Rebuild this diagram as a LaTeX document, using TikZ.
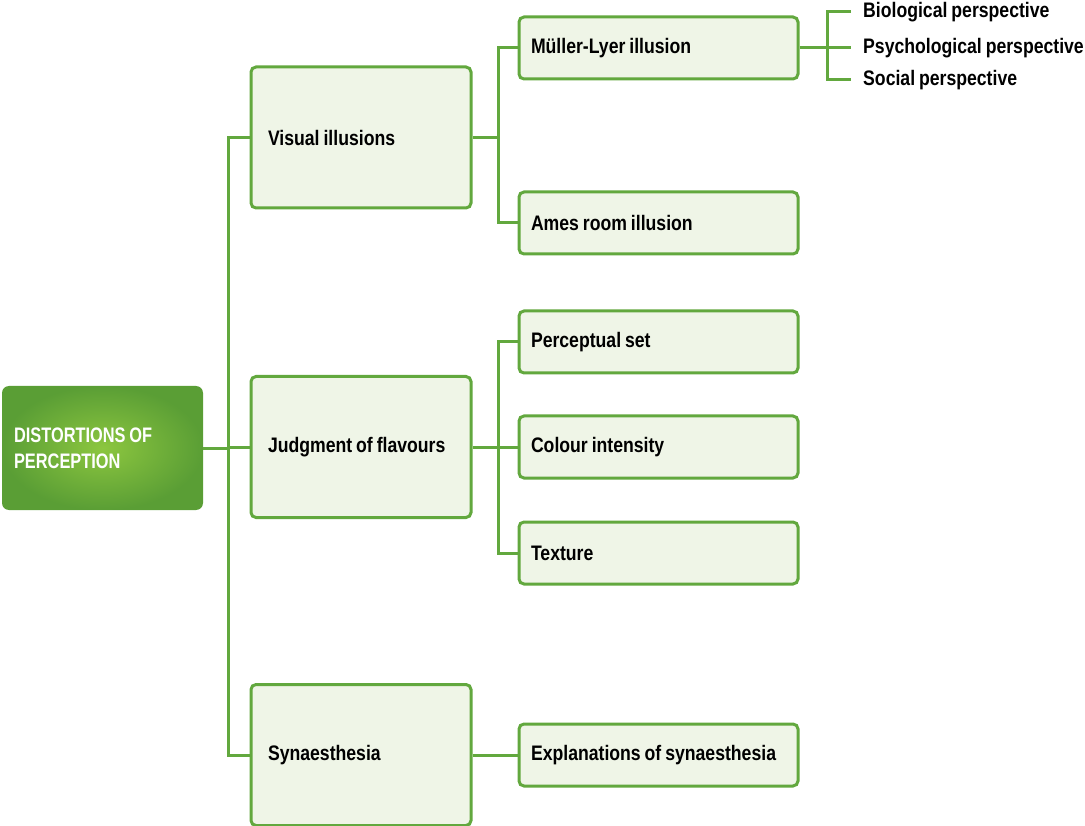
\documentclass[tikz,border=0pt]{standalone}
\usepackage{fontspec}
\setmainfont{Liberation Sans}[FakeStretch=0.84, WordSpace=0.8]
\newfontfamily\rootfont{Liberation Sans}[FakeStretch=0.78, WordSpace=0.8]
\usepackage{xcolor}
\usetikzlibrary{positioning, shadings}

\definecolor{linegreen}{HTML}{62A83E}
\definecolor{boxfill}{HTML}{EFF5E7}
\definecolor{rootin}{HTML}{8CC63F}
\definecolor{rootout}{HTML}{5A9E35}

\begin{document}
\begin{tikzpicture}[
    x=1pt, y=-1pt,
    font=\fontsize{21}{26}\selectfont\bfseries,
    rootbox/.style={rounded corners=7pt, text=white, align=flush left,
                    minimum width=201pt, minimum height=124pt,
                    text width=177pt, inner xsep=12pt,
                    font=\rootfont\fontsize{21}{26}\selectfont\bfseries,
                    inner color=rootin, outer color=rootout},
    topic/.style={draw=linegreen, line width=3pt, rounded corners=5pt,
                  fill=boxfill, align=flush left, minimum width=220pt,
                  minimum height=141pt, text width=186pt, inner xsep=17pt},
    sub/.style={draw=linegreen, line width=3pt, rounded corners=5pt,
                fill=boxfill, align=flush left, minimum width=279pt,
                minimum height=62pt, text width=255pt, inner xsep=12pt},
    leaf/.style={anchor=west, inner xsep=12pt, inner ysep=0pt},
    link/.style={draw=linegreen, line width=3pt}
  ]
  \useasboundingbox (0,0) rectangle (1085,826);

  % junction points
  \coordinate (j1) at (228,447);
  \coordinate (j2) at (498,137.5);
  \coordinate (j3) at (498,447);
  \coordinate (j4) at (827,48);

  \node[rootbox] (root) at (102.5,448) {DISTORTIONS OF\\PERCEPTION};

  \node[topic] (visual) at (361,137.5) {Visual illusions};
  \node[topic] (flavour) at (361,447) {Judgment of flavours};
  \node[topic] (synaes) at (361,755) {Synaesthesia};

  \node[sub] (muller) at (658.5,48) {Müller-Lyer illusion};
  \node[sub] (ames) at (658.5,223) {Ames room illusion};
  \node[sub] (percept) at (658.5,342) {Perceptual set};
  \node[sub] (colour) at (658.5,447) {Colour intensity};
  \node[sub] (texture) at (658.5,553) {Texture};
  \node[sub] (explain) at (658.5,755) {Explanations of synaesthesia};

  \node[leaf] (bio) at (851,12) {Biological perspective};
  \node[leaf] (psych) at (851,48) {Psychological perspective};
  \node[leaf] (social) at (851,80) {Social perspective};

  \draw[link] (root.east) -- (root.east -| j1);
  \draw[link] (visual.west) -| (j1) |- (synaes.west);
  \draw[link] (j1) -- (flavour.west);

  \draw[link] (visual.east) -- (j2);
  \draw[link] (muller.west) -| (j2) |- (ames.west);

  \draw[link] (flavour.east) -- (j3);
  \draw[link] (percept.west) -| (j3) |- (texture.west);
  \draw[link] (j3) -- (colour.west);

  \draw[link] (synaes.east) -- (explain.west);

  \draw[link] (muller.east) -- (j4);
  \draw[link] (bio.west) -| (j4) |- (social.west);
  \draw[link] (j4) -- (psych.west);
\end{tikzpicture}
\end{document}
